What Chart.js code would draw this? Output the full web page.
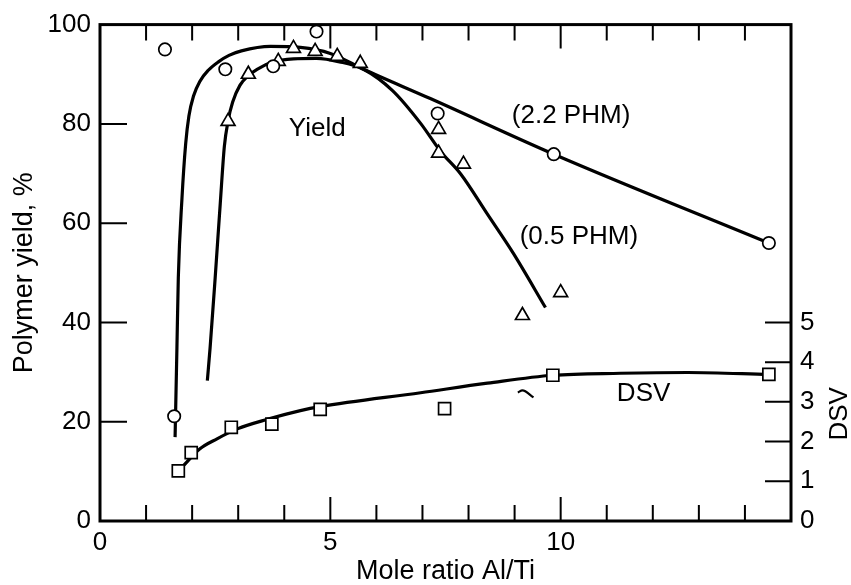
<!DOCTYPE html>
<html>
<head>
<meta charset="utf-8">
<title>Polymer yield and DSV vs Al/Ti</title>
<script src="https://cdn.jsdelivr.net/npm/chart.js@4.4.1/dist/chart.umd.min.js"></script>
<style>
  html, body { margin: 0; padding: 0; background: #fff; }
  canvas { display: block; }
</style>
</head>
<body>
<canvas id="yieldChart" width="851" height="585"></canvas>
<script>
// ================================
// DATA (mole ratio Al/Ti on x)
// ================================
// 2.2 PHM run, yield %
const phm22X = [1.41, 1.61, 2.72, 3.76, 4.70, 7.33, 9.85, 14.52];
const phm22Y = [95.0, 21.1, 91.0, 91.6, 98.6, 82.1, 73.9, 56.0];

// 0.5 PHM run, yield %
const phm05X = [2.78, 3.22, 3.87, 4.20, 4.67, 5.15, 5.65, 7.35, 7.35, 7.89, 9.17, 10.0];
const phm05Y = [80.5, 90.0, 92.6, 95.2, 94.6, 93.6, 92.2, 78.9, 74.1, 71.9, 41.4, 46.0];

// DSV measurements (right axis)
const dsvX = [1.70, 1.98, 2.85, 3.73, 4.78, 7.48, 9.83, 14.52];
const dsvY = [1.26, 1.72, 2.36, 2.44, 2.81, 2.83, 3.67, 3.69];

// hand-drawn fit curves
const curve22X = [1.63, 1.67, 1.70, 1.78, 1.86, 1.93, 2.03, 2.17, 2.35, 2.57, 2.80, 3.07, 3.70, 4.35, 5.00, 5.72, 7.17, 9.85, 14.52];
const curve22Y = [16.9, 34.9, 49.0, 65.1, 76.0, 81.6, 85.6, 88.6, 90.8, 92.5, 93.8, 94.7, 95.6, 95.4, 94.2, 91.0, 85.1, 73.9, 56.0];

const curve05X = [2.33, 2.39, 2.50, 2.61, 2.70, 2.78, 2.88, 3.04, 3.22, 3.41, 3.76, 4.20, 4.70, 5.20, 5.72, 6.35, 6.96, 7.39, 7.83, 8.41, 8.98, 9.67];
const curve05Y = [28.3, 34.9, 49.0, 63.9, 75.5, 80.6, 84.4, 87.8, 89.7, 91.0, 92.5, 93.1, 93.2, 92.5, 91.0, 86.7, 80.1, 74.5, 69.9, 61.8, 53.8, 43.0];

const dsvCurveX = [1.80, 2.17, 2.54, 2.98, 3.63, 4.35, 4.78, 6.96, 8.41, 9.83, 11.30, 12.76, 14.52];
const dsvCurveY = [1.38, 1.82, 2.07, 2.32, 2.56, 2.78, 2.88, 3.23, 3.47, 3.67, 3.72, 3.74, 3.69];

// small stray stroke near the DSV line
const strayX = [9.07, 9.17, 9.41];
const strayY = [25.9, 26.3, 24.9];

// tick labels
const xTicks = [0, 5, 10];
const yTicks = [0, 20, 40, 60, 80, 100];
const dsvTicks = [0, 1, 2, 3, 4, 5];

// text inside the plot, placed in data units
const notes = [
  { text: "Yield", x: 4.10, y: 79.1 },
  { text: "(2.2 PHM)", x: 8.94, y: 81.7 },
  { text: "(0.5 PHM)", x: 9.11, y: 57.2 },
  { text: "DSV", x: 11.22, y: 25.6 }
];

const FONT = "'Liberation Sans', Arial, Helvetica, sans-serif";
Chart.defaults.color = "#000";
Chart.defaults.font.family = FONT;

function pts(xs, ys) {
  return xs.map((x, i) => ({ x: x, y: ys[i] }));
}

function markers(data, style, radius, axis) {
  return {
    data: data,
    yAxisID: axis || "y",
    showLine: false,
    pointStyle: style,
    pointRadius: radius,
    pointBackgroundColor: "#fff",
    pointBorderColor: "#000",
    pointBorderWidth: 1.7
  };
}

function curve(data, axis, width) {
  return {
    data: data,
    yAxisID: axis || "y",
    showLine: true,
    pointRadius: 0,
    borderColor: "#000",
    borderWidth: width || 3.2,
    cubicInterpolationMode: "monotone",
    fill: false
  };
}

// frame, inward ticks, text notes and the DSV axis title
const frameAndNotes = {
  id: "frameAndNotes",
  afterDatasetsDraw(chart) {
    const { ctx, chartArea: a, scales } = chart;
    const x = scales.x, y = scales.y, y2 = scales.y2;
    ctx.save();
    ctx.strokeStyle = "#000";
    ctx.lineWidth = 2;
    ctx.beginPath();
    for (let v = 1; v < 15; v++) {
      const px = x.getPixelForValue(v);
      const len = v % 5 === 0 ? 24 : 16;
      ctx.moveTo(px, a.bottom);
      ctx.lineTo(px, a.bottom - len);
      ctx.moveTo(px, a.top);
      ctx.lineTo(px, a.top + len);
    }
    yTicks.forEach(v => {
      if (v <= 0 || v >= 100) return;
      const py = y.getPixelForValue(v);
      ctx.moveTo(a.left, py);
      ctx.lineTo(a.left + 27, py);
    });
    dsvTicks.forEach(v => {
      if (v <= 0) return;
      const py = y2.getPixelForValue(v);
      ctx.moveTo(a.right, py);
      ctx.lineTo(a.right - 26, py);
    });
    ctx.stroke();

    ctx.lineWidth = 3;
    ctx.strokeRect(a.left, a.top, a.right - a.left, a.bottom - a.top);

    ctx.fillStyle = "#000";
    ctx.font = "26px " + FONT;
    ctx.textAlign = "left";
    ctx.textBaseline = "middle";
    notes.forEach(n => {
      ctx.fillText(n.text, x.getPixelForValue(n.x), y.getPixelForValue(n.y));
    });

    // right axis title, reading bottom to top
    ctx.translate(840, y2.getPixelForValue(2.7));
    ctx.rotate(-Math.PI / 2);
    ctx.textAlign = "center";
    ctx.fillText("DSV", 0, 0);
    ctx.restore();
  }
};

new Chart(document.getElementById("yieldChart"), {
  type: "scatter",
  data: {
    datasets: [
      markers(pts(phm22X, phm22Y), "circle", 6.2),
      markers(pts(phm05X, phm05Y), "triangle", 8),
      markers(pts(dsvX, dsvY), "rect", 8.5, "y2"),
      curve(pts(curve22X, curve22Y)),
      curve(pts(curve05X, curve05Y)),
      curve(pts(dsvCurveX, dsvCurveY), "y2"),
      curve(pts(strayX, strayY), "y", 2.2)
    ]
  },
  options: {
    responsive: false,
    animation: false,
    layout: { padding: { top: 22, left: 0, right: 0, bottom: 0 } },
    plugins: {
      legend: { display: false },
      tooltip: { enabled: false }
    },
    scales: {
      x: {
        type: "linear",
        min: 0,
        max: 15,
        grid: { display: false, drawTicks: false },
        border: { display: false },
        afterBuildTicks: s => { s.ticks = xTicks.map(v => ({ value: v })); },
        afterFit: s => { s.height = 64; },
        ticks: { padding: 6, font: { size: 26, lineHeight: 1.2 } },
        title: {
          display: true,
          text: "Mole ratio Al/Ti",
          font: { size: 27, lineHeight: 1 },
          padding: { top: 0, bottom: 0 }
        }
      },
      y: {
        min: 0,
        max: 100,
        grid: { display: false, drawTicks: false },
        border: { display: false },
        afterBuildTicks: s => { s.ticks = yTicks.map(v => ({ value: v })); },
        afterFit: s => { s.width = 100; },
        ticks: { padding: 9, font: { size: 26 } },
        title: {
          display: true,
          text: "Polymer yield, %",
          font: { size: 27, lineHeight: 1 },
          padding: { top: 11, bottom: 0 }
        }
      },
      y2: {
        position: "right",
        min: 0,
        max: 12.5,
        grid: { display: false, drawTicks: false },
        border: { display: false },
        afterBuildTicks: s => { s.ticks = dsvTicks.map(v => ({ value: v })); },
        afterFit: s => { s.width = 60; },
        ticks: { padding: 9, font: { size: 26 } }
      }
    }
  },
  plugins: [frameAndNotes]
});
</script>
</body>
</html>
